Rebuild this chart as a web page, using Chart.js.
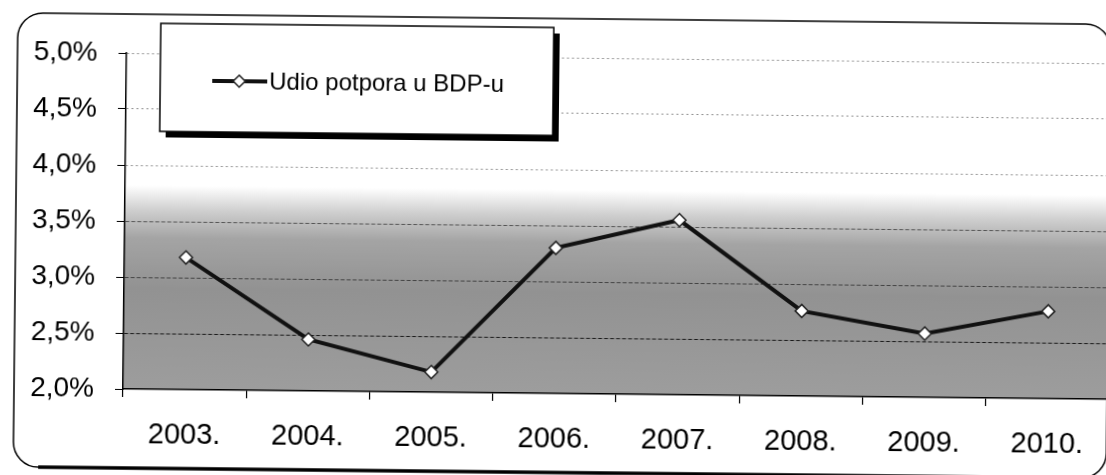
<!DOCTYPE html>
<html>
<head>
<meta charset="utf-8">
<script src="https://cdn.jsdelivr.net/npm/chart.js@4"></script>
<style>
html, body { margin: 0; padding: 0; background: #fff; overflow: hidden; width: 1106px; height: 475px; }
/* the scanned original sits slightly askew, so the whole drawing is turned a little */
#wrap { position: absolute; left: 0; top: 0; width: 1140px; height: 500px;
        transform-origin: 123px 389px; transform: rotate(0.6deg); }
</style>
</head>
<body>
<div id="wrap"><canvas id="chart" width="1140" height="500"></canvas></div>
<script>
const years = ['2003.', '2004.', '2005.', '2006.', '2007.', '2008.', '2009.', '2010.'];
const udio = [3.18, 2.46, 2.18, 3.30, 3.56, 2.76, 2.57, 2.78];
const yTicks = [2.0, 2.5, 3.0, 3.5, 4.0, 4.5, 5.0];
const seriesName = 'Udio potpora u BDP-u';

const FONT = 'Liberation Sans';

// grey shading of the plot area + rounded frame round the whole chart
const backdrop = {
    id: 'backdrop',
    beforeDraw(chart) {
        const ctx = chart.ctx;
        const a = chart.chartArea;
        const y = chart.scales.y;
        ctx.save();
        ctx.fillStyle = '#fff';
        ctx.fillRect(0, 0, chart.width, chart.height);

        const stop = v => (y.getPixelForValue(v) - a.top) / (a.bottom - a.top);
        const g = ctx.createLinearGradient(0, a.top, 0, a.bottom);
        g.addColorStop(0, '#ffffff');
        g.addColorStop(stop(3.82), '#ffffff');
        g.addColorStop(stop(3.6), '#cfcfcf');
        g.addColorStop(stop(3.35), '#a4a4a4');
        g.addColorStop(stop(2.9), '#929292');
        g.addColorStop(1, '#9d9d9d');
        ctx.fillStyle = g;
        ctx.fillRect(a.left, a.top, a.right - a.left, a.bottom - a.top);

        // frame
        const l = 14, t = 14, r = 1107, b = 468, rad = 25;
        ctx.strokeStyle = '#000';
        ctx.lineWidth = 1.5;
        ctx.beginPath();
        ctx.moveTo(l + rad, t);
        ctx.lineTo(r - rad, t);
        ctx.arcTo(r, t, r, t + rad, rad);
        ctx.lineTo(r, b - rad);
        ctx.arcTo(r, b, r - rad, b, rad);
        ctx.lineTo(l + rad, b);
        ctx.arcTo(l, b, l, b - rad, rad);
        ctx.lineTo(l, t + rad);
        ctx.arcTo(l, t, l + rad, t, rad);
        ctx.stroke();
        ctx.lineWidth = 3.5;
        ctx.beginPath();
        ctx.moveTo(l + rad, b);
        ctx.lineTo(r - rad, b);
        ctx.stroke();
        ctx.restore();
    }
};

// boxed legend with a drop shadow
const legendBox = {
    id: 'legendBox',
    afterDraw(chart) {
        const ctx = chart.ctx;
        const ds = chart.data.datasets[0];
        const x = 157, y = 23, w = 393, h = 108;
        ctx.save();
        ctx.fillStyle = '#000';
        ctx.fillRect(x + 6, y + 6, w, h);
        ctx.fillStyle = '#fff';
        ctx.fillRect(x, y, w, h);
        ctx.strokeStyle = '#000';
        ctx.lineWidth = 1.5;
        ctx.strokeRect(x, y, w, h);

        const ly = 80;
        ctx.strokeStyle = ds.borderColor;
        ctx.lineWidth = ds.borderWidth;
        ctx.beginPath();
        ctx.moveTo(209, ly);
        ctx.lineTo(264, ly);
        ctx.stroke();
        const cx = 236, s = 6;
        ctx.beginPath();
        ctx.moveTo(cx, ly - s);
        ctx.lineTo(cx + s, ly);
        ctx.lineTo(cx, ly + s);
        ctx.lineTo(cx - s, ly);
        ctx.closePath();
        ctx.fillStyle = '#fff';
        ctx.fill();
        ctx.lineWidth = 1.5;
        ctx.strokeStyle = '#222';
        ctx.stroke();

        ctx.fillStyle = '#000';
        ctx.font = '24px "' + FONT + '"';
        ctx.textBaseline = 'middle';
        ctx.textAlign = 'left';
        ctx.fillText(ds.label, 266, ly + 1);
        ctx.restore();
    }
};

function gridColor(c) {
    const v = c.tick ? c.tick.value : 0;
    if (v <= 2.0) return 'rgba(0,0,0,0)';
    if (v >= 4.0) return 'rgba(0,0,0,0.45)';
    if (v === 2.5) return '#1a1a1a';
    return 'rgba(0,0,0,0.55)';
}

new Chart(document.getElementById('chart'), {
    type: 'line',
    data: {
        labels: years,
        datasets: [{
            label: seriesName,
            data: udio,
            borderColor: '#111',
            borderWidth: 4,
            tension: 0,
            pointStyle: 'rectRot',
            pointRadius: 6.5,
            pointBackgroundColor: '#fff',
            pointBorderColor: '#222',
            pointBorderWidth: 1.5,
            clip: false
        }]
    },
    options: {
        responsive: false,
        devicePixelRatio: 1,
        animation: false,
        layout: { padding: { top: 53, right: 31, left: 0, bottom: 0 } },
        plugins: { legend: { display: false }, tooltip: { enabled: false } },
        scales: {
            x: {
                offset: true,
                grid: { offset: true, drawOnChartArea: false, tickLength: 8, color: '#000', lineWidth: 1.2 },
                border: { color: '#000', width: 1.5 },
                ticks: { color: '#000', font: { family: FONT, size: 29 }, padding: 21, maxRotation: 0, autoSkip: false },
                afterFit(s) { s.height = 111; }
            },
            y: {
                min: 2,
                max: 5,
                afterBuildTicks(s) { s.ticks = yTicks.map(v => ({ value: v })); },
                afterFit(s) { s.width = 123; },
                ticks: {
                    color: '#000',
                    font: { family: FONT, size: 28 },
                    padding: 21,
                    callback: v => v.toFixed(1).replace('.', ',') + '%'
                },
                grid: { tickLength: 8, color: gridColor, tickColor: '#000', lineWidth: 1 },
                border: { color: '#000', width: 1.5, dash: c => (c.tick && c.tick.value >= 4.0) ? [2, 3] : [4, 2] }
            }
        }
    },
    plugins: [backdrop, legendBox]
});
</script>
</body>
</html>
